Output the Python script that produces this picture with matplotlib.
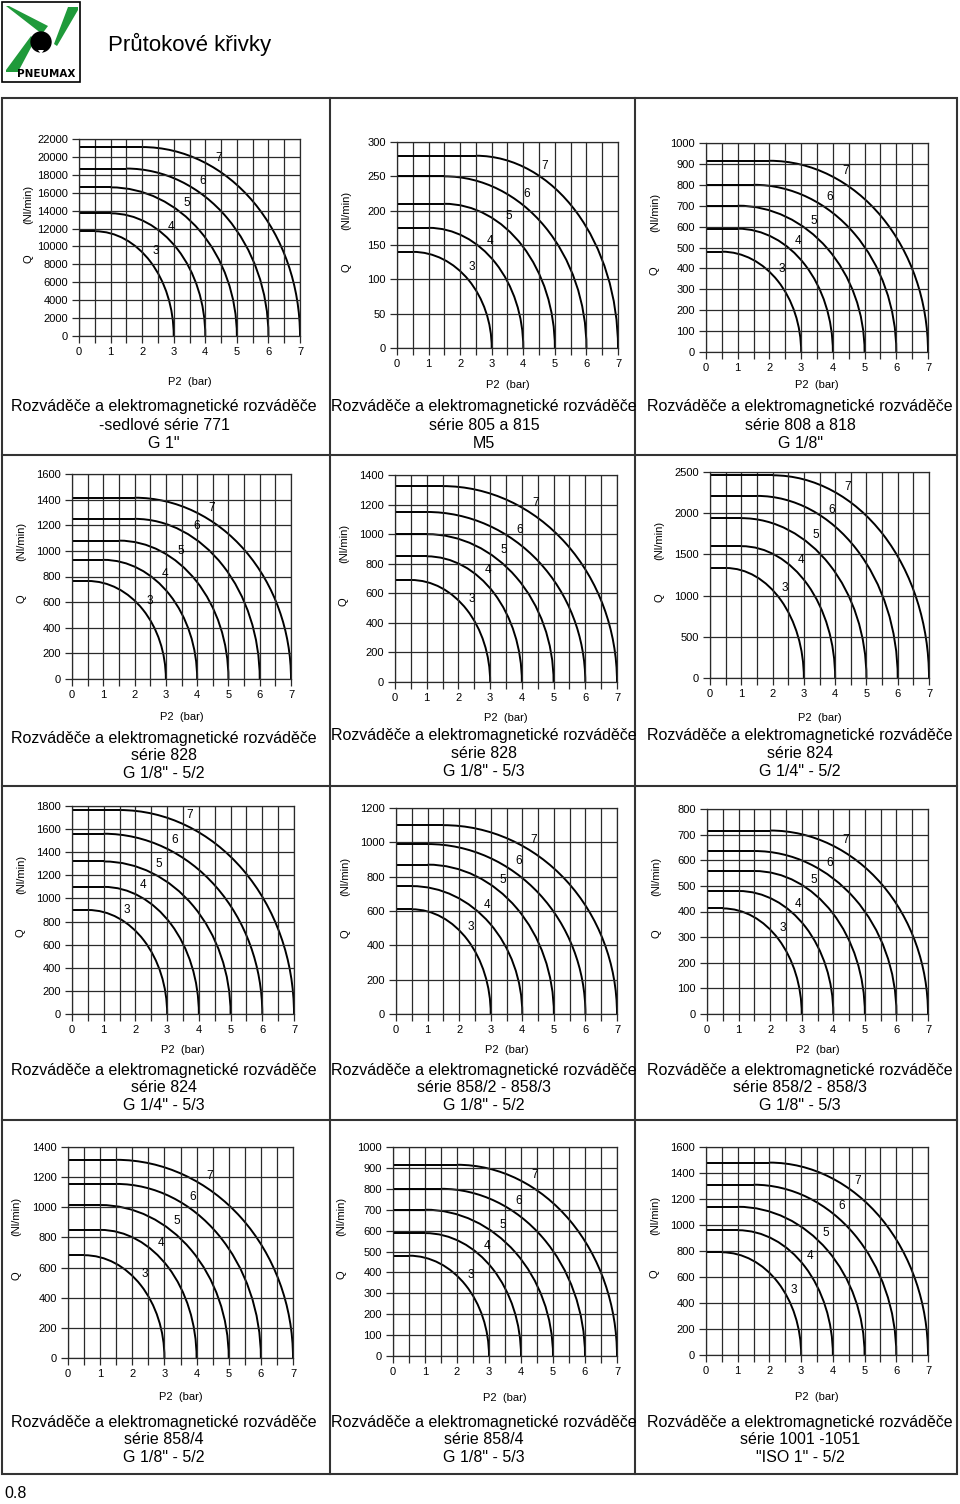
import numpy as np
import matplotlib.pyplot as plt
from matplotlib.patches import Arc, Rectangle, Polygon, Circle

plt.rcParams['font.family'] = ['Liberation Sans', 'DejaVu Sans']

W, H = 960, 1504

# inlet pressure P1 (bar) of each curve, and the P2 axis
p1_curves = [3, 4, 5, 6, 7]
p2_ticks = [0, 1, 2, 3, 4, 5, 6, 7]

# y scale of every panel (top value, tick step)
y_top = [22000, 300, 1000, 1600, 1400, 2500, 1800, 1200, 800, 1400, 1000, 1600]
y_step = [2000, 50, 100, 200, 200, 500, 200, 200, 100, 200, 100, 200]

# max flow Q (Nl/min) of curves 3..7 and the P2 where the flat part ends
q_771 = [11700, 13700, 16600, 18700, 21100]
knee_771 = [0.5, 1.0, 1.0, 1.5, 2.0]
q_805 = [140, 175, 210, 250, 280]
knee_805 = [0.5, 1.0, 1.5, 1.5, 2.5]
q_808 = [480, 590, 700, 800, 915]
knee_808 = [0.5, 1.0, 1.0, 1.5, 2.0]
q_828_52 = [765, 930, 1080, 1250, 1415]
knee_828_52 = [0.5, 1.0, 1.5, 2.0, 2.0]
q_828_53 = [690, 850, 1000, 1150, 1325]
knee_828_53 = [0.5, 1.0, 1.0, 1.0, 1.5]
q_824_52 = [1335, 1600, 1940, 2210, 2460]
knee_824_52 = [0.5, 1.0, 1.0, 1.5, 2.0]
q_824_53 = [900, 1100, 1320, 1560, 1765]
knee_824_53 = [0.5, 1.0, 1.0, 1.0, 1.5]
q_858_52 = [610, 745, 870, 990, 1100]
knee_858_52 = [0.5, 0.5, 1.0, 1.0, 1.5]
q_858_53 = [412, 480, 558, 636, 716]
knee_858_53 = [0.5, 1.0, 1.5, 1.5, 2.0]
q_8584_52 = [682, 850, 1015, 1155, 1315]
knee_8584_52 = [0.5, 1.0, 1.0, 1.5, 1.5]
q_8584_53 = [480, 588, 700, 800, 915]
knee_8584_53 = [0.5, 1.0, 1.0, 1.5, 2.0]
q_1001 = [790, 960, 1140, 1310, 1480]
knee_1001 = [0.5, 1.0, 1.0, 1.5, 2.0]

flows = [q_771, q_805, q_808, q_828_52, q_828_53, q_824_52,
         q_824_53, q_858_52, q_858_53, q_8584_52, q_8584_53, q_1001]
knees = [knee_771, knee_805, knee_808, knee_828_52, knee_828_53, knee_824_52,
         knee_824_53, knee_858_52, knee_858_53, knee_8584_52, knee_8584_53, knee_1001]

captions = [
    ["Rozváděče a elektromagnetické rozváděče", "-sedlové série 771", 'G 1"'],
    ["Rozváděče a elektromagnetické rozváděče", "série 805 a 815", "M5"],
    ["Rozváděče a elektromagnetické rozváděče", "série 808 a 818", 'G 1/8"'],
    ["Rozváděče a elektromagnetické rozváděče", "série 828", 'G 1/8" - 5/2'],
    ["Rozváděče a elektromagnetické rozváděče", "série 828", 'G 1/8" - 5/3'],
    ["Rozváděče a elektromagnetické rozváděče", "série 824", 'G 1/4" - 5/2'],
    ["Rozváděče a elektromagnetické rozváděče", "série 824", 'G 1/4" - 5/3'],
    ["Rozváděče a elektromagnetické rozváděče", "série 858/2 - 858/3", 'G 1/8" - 5/2'],
    ["Rozváděče a elektromagnetické rozváděče", "série 858/2 - 858/3", 'G 1/8" - 5/3'],
    ["Rozváděče a elektromagnetické rozváděče", "série 858/4", 'G 1/8" - 5/2'],
    ["Rozváděče a elektromagnetické rozváděče", "série 858/4", 'G 1/8" - 5/3'],
    ["Rozváděče a elektromagnetické rozváděče", "série 1001 -1051", '"ISO 1" - 5/2'],
]

# plot box of each panel in pixels: x of P2=0, x of P2=7, y of Q=0, y of top
boxes = [
    (79, 300, 336, 139), (397, 618, 348, 142), (706, 928, 352, 143),
    (72, 291, 679, 474), (395, 617, 682, 475), (710, 929, 678, 472),
    (72, 294, 1014, 806), (396, 617, 1014, 808), (707, 928, 1014, 809),
    (68, 293, 1358, 1147), (393, 617, 1356, 1147), (706, 928, 1355, 1147),
]
xlabel_y = [382, 385, 385, 717, 718, 718, 1050, 1050, 1050, 1397, 1398, 1397]
caption_y = [407, 407, 407, 738, 736, 736, 1070, 1070, 1070, 1422, 1422, 1422]
col_center = [164, 484, 800]
# where the curve numbers sit: P2 = a * P1 + b
label_pos = [(0.5, 0.75), (0.58, 0.45), (0.5, 0.72), (0.5, 0.8), (0.5, 0.75), (0.5, 0.72),
             (0.5, 0.05), (0.5, 0.7), (0.5, 0.72), (0.5, 0.72), (0.5, 0.75), (0.5, 1.1)]

fig = plt.figure(figsize=(W / 100, H / 100), dpi=100)
fig.patch.set_facecolor('white')

grid_col = '#2a2a2a'

for i in range(12):
    x0, x7, yb, yt = boxes[i]
    ax = fig.add_axes([x0 / W, 1 - yb / H, (x7 - x0) / W, (yb - yt) / H])
    ax.set_xlim(0, 7)
    ax.set_ylim(0, y_top[i])
    ax.set_xticks(p2_ticks)
    ax.set_xticks(np.arange(0.5, 7, 1.0), minor=True)
    ax.set_yticks(np.arange(0, y_top[i] + 1, y_step[i]))
    ax.grid(True, which='both', axis='x', color=grid_col, lw=0.9)
    ax.grid(True, which='major', axis='y', color=grid_col, lw=0.9)
    ax.tick_params(which='both', direction='out', length=5, width=0.9,
                   color=grid_col, labelsize=8, pad=3)
    ax.tick_params(axis='y', which='minor', left=False)
    for s in ax.spines.values():
        s.set_color(grid_col)
        s.set_linewidth(0.9)

    a, b = label_pos[i]
    for p1, q, k in zip(p1_curves, flows[i], knees[i]):
        ax.plot([0, k], [q, q], color='black', lw=1.4, solid_capstyle='butt')
        ax.add_patch(Arc((k, 0), 2 * (p1 - k), 2 * q, theta1=0, theta2=90,
                         color='black', lw=1.4))
        lx = a * p1 + b
        ly = q * np.sqrt(max(0.0, 1 - ((lx - k) / (p1 - k)) ** 2)) if lx > k else q
        ax.annotate(str(p1), (lx, ly), xytext=(4, 7), textcoords='offset points',
                    fontsize=8.5, ha='center', va='center')

    ax.text(-0.23, 0.39, 'Q', transform=ax.transAxes, rotation=90,
            fontsize=8, ha='center', va='center')
    ax.text(-0.23, 0.67, '(Nl/min)', transform=ax.transAxes, rotation=90,
            fontsize=8, ha='center', va='center')
    fig.text((x0 + 0.5 * (x7 - x0)) / W, 1 - xlabel_y[i] / H, 'P2  (bar)',
             fontsize=8, ha='center', va='center')

    cx = col_center[i % 3]
    for j, line in enumerate(captions[i]):
        fig.text(cx / W, 1 - (caption_y[i] + 18 * j) / H, line,
                 fontsize=11.5, ha='center', va='center')

# table frame
frame = fig.add_axes([0, 0, 1, 1], zorder=-1)
frame.set_xlim(0, W)
frame.set_ylim(H, 0)
frame.axis('off')
fc = '#333333'
frame.add_patch(Rectangle((2, 98), 955, 1376, fill=False, ec=fc, lw=1.5))
for yy in [455, 786, 1120]:
    frame.plot([2, 957], [yy, yy], color=fc, lw=1.5)
for xx in [330, 635]:
    frame.plot([xx, xx], [98, 1474], color=fc, lw=1.5)

# logo
frame.add_patch(Rectangle((2, 2), 78, 80, fill=False, ec='black', lw=1.2))
green = '#1f9a3a'
frame.add_patch(Polygon([(6, 6), (9, 6), (48, 26), (42, 34)], closed=True, color=green, lw=0))
frame.add_patch(Polygon([(68, 7), (78, 7), (78, 10), (57, 46), (54, 44)], closed=True, color=green, lw=0))
frame.add_patch(Polygon([(31, 36), (35, 40), (18, 72), (6, 72), (6, 70)], closed=True, color=green, lw=0))
frame.add_patch(Circle((41, 42), 10, color='black'))
frame.add_patch(Polygon([(38, 50), (44, 50), (41, 54)], closed=True, color='white', lw=0))
frame.text(46, 74, 'PNEUMAX', fontsize=7.5, fontweight='bold', ha='center', va='center',
           family=['DejaVu Sans'])

frame.text(108, 44, 'Průtokové křivky', fontsize=16, ha='left', va='center')
frame.text(4, 1494, '0.8', fontsize=11.5, ha='left', va='center')

fig.savefig('out.png', dpi=100)
